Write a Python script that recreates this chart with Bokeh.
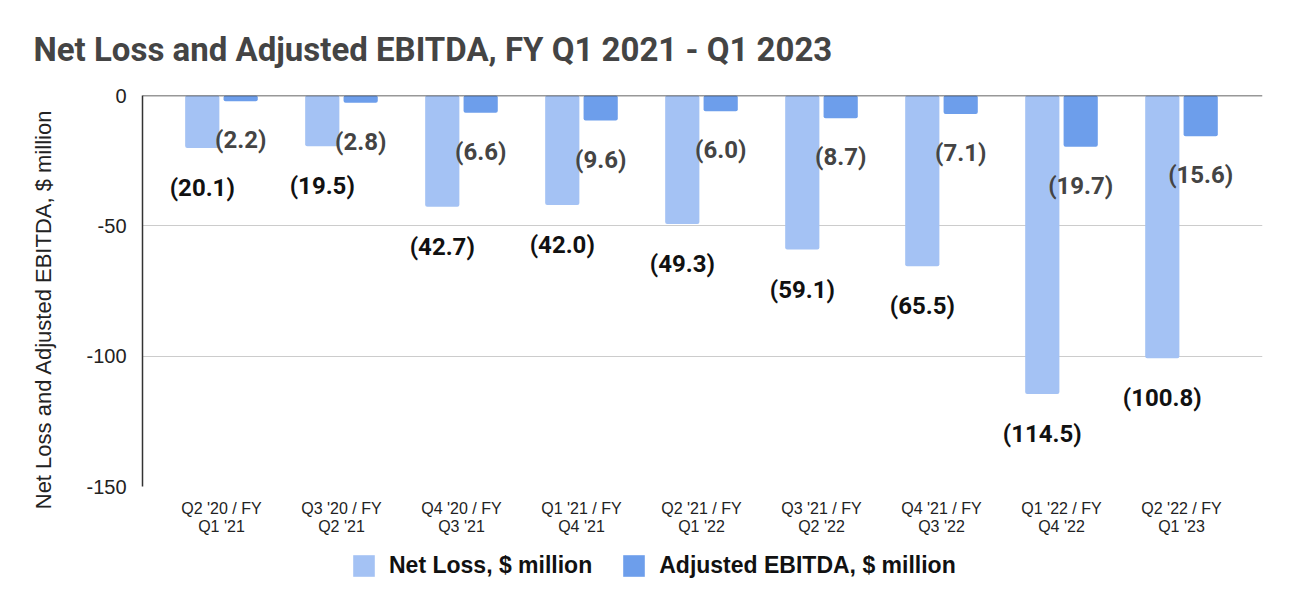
from bokeh.plotting import figure
from bokeh.models import Range1d, FixedTicker, Legend, LegendItem, Span
from bokeh.layouts import column
from bokeh.embed import file_html
from bokeh.resources import INLINE

categories = ["Q2 '20 / FY\nQ1 '21", "Q3 '20 / FY\nQ2 '21", "Q4 '20 / FY\nQ3 '21",
              "Q1 '21 / FY\nQ4 '21", "Q2 '21 / FY\nQ1 '22", "Q3 '21 / FY\nQ2 '22",
              "Q4 '21 / FY\nQ3 '22", "Q1 '22 / FY\nQ4 '22", "Q2 '22 / FY\nQ1 '23"]
net_loss = [-20.1, -19.5, -42.7, -42.0, -49.3, -59.1, -65.5, -114.5, -100.8]
adj_ebitda = [-2.2, -2.8, -6.6, -9.6, -6.0, -8.7, -7.1, -19.7, -15.6]
y_ticks = [-150, -100, -50, 0]
y_tick_labels = ["-150", "-100", "-50", "0"]
series_names = ["Net Loss, $ million", "Adjusted EBITDA, $ million"]
series_colors = ["#a4c2f4", "#6d9eeb"]

idx = list(range(len(categories)))
x_nl = [i - 0.16 for i in idx]
x_ae = [i + 0.16 for i in idx]
lab_nl = ["(%.1f)" % abs(v) for v in net_loss]
lab_ae = ["(%.1f)" % abs(v) for v in adj_ebitda]

p = figure(frame_width=1120, frame_height=391, output_backend="svg", toolbar_location=None,
           x_range=Range1d(-0.658, 8.675), y_range=Range1d(-150, 0),
           min_border_left=142, min_border_right=30, min_border_top=95, min_border_bottom=55)
p.outline_line_color = None
p.background_fill_color = "white"
p.border_fill_color = "white"

p.title.text = "Net Loss and Adjusted EBITDA, FY Q1 2021 - Q1 2023"
p.title.text_font = "Roboto"
p.title.text_font_style = "bold"
p.title.text_font_size = "33px"
p.title.text_color = "#444444"
p.title.align = "left"
p.title.offset = -109
p.title.standoff = 53

p.vbar(x=x_nl, top=0, bottom=net_loss, width=0.285, fill_color=series_colors[0],
       line_color=None, border_radius=2)
p.vbar(x=x_ae, top=0, bottom=adj_ebitda, width=0.285, fill_color=series_colors[1],
       line_color=None, border_radius=2)

p.text(x=x_nl, y=net_loss, text=lab_nl, y_offset=40, text_align="center",
       text_baseline="middle", text_font={"value": "Roboto"}, text_font_style="bold",
       text_font_size="24px", text_color="#111111")
p.text(x=x_ae, y=adj_ebitda, text=lab_ae, y_offset=39, text_align="center",
       text_baseline="middle", text_font={"value": "Roboto"}, text_font_style="bold",
       text_font_size="24px", text_color="#444444")

p.add_layout(Span(location=0, dimension="width", line_color="#333333", line_width=1.5))

p.xgrid.visible = False
p.ygrid.ticker = FixedTicker(ticks=y_ticks)
p.ygrid.grid_line_color = "#cccccc"
p.ygrid.grid_line_width = 1

p.yaxis.ticker = FixedTicker(ticks=y_ticks)
p.yaxis.major_label_overrides = {t: l for t, l in zip(y_ticks, y_tick_labels)}
p.yaxis.axis_line_color = "#333333"
p.yaxis.axis_line_width = 1.5
p.yaxis.major_tick_line_color = None
p.yaxis.minor_tick_line_color = None
p.yaxis.major_label_text_font = "Liberation Sans"
p.yaxis.major_label_text_font_size = "20px"
p.yaxis.major_label_text_color = "#222222"
p.yaxis.major_label_standoff = 10
p.yaxis.axis_label = "Net Loss and Adjusted EBITDA, $ million" + "\u00a0" * 6
p.yaxis.axis_label_text_font = "Liberation Sans"
p.yaxis.axis_label_text_font_style = "normal"
p.yaxis.axis_label_text_font_size = "22px"
p.yaxis.axis_label_text_color = "#222222"
p.yaxis.axis_label_standoff = 27

p.xaxis.ticker = FixedTicker(ticks=idx)
p.xaxis.major_label_overrides = {i: c for i, c in zip(idx, categories)}
p.xaxis.axis_line_color = None
p.xaxis.major_tick_line_color = None
p.xaxis.minor_tick_line_color = None
p.xaxis.major_label_text_font = "Liberation Sans"
p.xaxis.major_label_text_font_size = "16px"
p.xaxis.major_label_text_color = "#222222"
p.xaxis.major_label_text_line_height = 1.1
p.xaxis.major_label_standoff = 7

# legend strip below the chart (its bars lie outside its visible range)
lg = figure(width=1292, height=66, output_backend="svg", toolbar_location=None,
            x_axis_type=None, y_axis_type=None, min_border=0,
            x_range=Range1d(-0.658, 8.675), y_range=Range1d(0, 1))
lg.outline_line_color = None
lg.xgrid.visible = False
lg.ygrid.visible = False
items = []
for name, col, xs, vals in zip(series_names, series_colors, [x_nl, x_ae], [net_loss, adj_ebitda]):
    r = lg.vbar(x=xs, top=0, bottom=vals, width=0.285, fill_color=col, line_color=None)
    items.append(LegendItem(label=name, renderers=[r]))
legend = Legend(items=items, orientation="horizontal", location=(208, 28),
                label_text_font="Liberation Sans", label_text_font_style="bold",
                label_text_font_size="23px", label_text_color="#111111",
                glyph_width=27, glyph_height=27, spacing=28, label_standoff=12,
                padding=0, margin=0,
                border_line_color=None, background_fill_alpha=0)
lg.add_layout(legend, "center")

layout = column(p, lg, spacing=0)
open("out.html", "w").write(file_html(layout, INLINE))
